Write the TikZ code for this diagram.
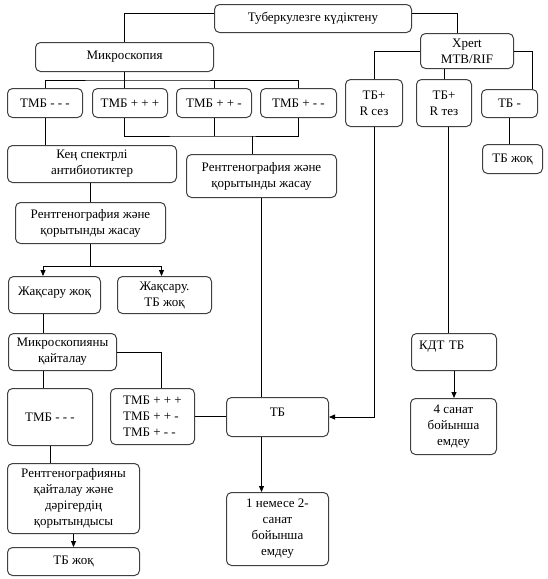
\documentclass[tikz,border=0pt]{standalone}
\usepackage{fontspec}
\setmainfont{Liberation Serif}
\usetikzlibrary{positioning,arrows.meta,calc}
\tikzset{
  box/.style={draw=black!75, line width=1pt, rounded corners=5pt, inner sep=1pt,
              align=center, anchor=north west, font=\fontsize{13}{16}\selectfont},
  sz/.style 2 args={minimum width=#1, minimum height=#2},
  wire/.style={draw=black, line width=0.8pt},
  arr/.style={wire, -{Triangle[length=6pt,width=5pt]}}
}

\begin{document}
\begin{tikzpicture}[x=1pt, y=-1pt]
\useasboundingbox (0,0) rectangle (548,579);
% top row
\node[box, sz={197pt}{28pt}] (susp) at (214,4) {Туберкулезге күдіктену};
\node[box, sz={178pt}{29pt}] (micro) at (35,42) {Микроскопия};
\node[box, sz={93pt}{35pt}] (xpert) at (420,33) {Xpert\\MTB/RIF};
% microscopy results
\node[box, sz={75pt}{29pt}] (tmbA) at (7,88) {ТМБ - - -};
\node[box, sz={75pt}{29pt}] (tmbB) at (92,88) {ТМБ + + +};
\node[box, sz={75pt}{29pt}] (tmbC) at (176,88) {ТМБ + + -};
\node[box, sz={76pt}{29pt}] (tmbD) at (260,88) {ТМБ + - -};
% xpert results
\node[box, sz={57pt}{47pt}] (rses) at (345,79) {ТБ+\\R сез};
\node[box, sz={55pt}{47pt}] (rtez) at (416,79) {ТБ+\\R тез};
\node[box, sz={56pt}{28pt}] (tbneg) at (481,89) {ТБ -};
\node[box, sz={60pt}{29pt}] (tbnoA) at (482,144) {ТБ жоқ};
% left branch
\node[box, sz={169pt}{37pt}] (abx) at (7,145) {Кең спектрлі\\антибиотиктер};
\node[box, sz={150pt}{43pt}] (xrayB) at (186,154) {Рентгенография және\\қорытынды жасау};
\node[box, sz={150pt}{41pt}] (xrayA) at (15,202) {Рентгенография және\\қорытынды жасау};
\node[box, sz={92pt}{37pt}, text depth=8pt] (noimp) at (8,276) {Жақсару жоқ};
\node[box, sz={94pt}{37pt}] (imp) at (117,276) {Жақсару.\\ТБ жоқ};
\node[box, sz={108pt}{37pt}] (remicro) at (8,333) {Микроскопияны\\қайталау};
\node[box, sz={85pt}{57pt}] (tmbE) at (7,388) {ТМБ - - -};
\node[box, sz={84pt}{56pt}, align=left] (tmbpos) at (110,388) {ТМБ + + +\\ТМБ + + -\\ТМБ + - -};
\node[box, sz={132pt}{70pt}] (xrayC) at (7,463) {Рентгенографияны\\қайталау және\\дәрігердің\\қорытындысы};
\node[box, sz={132pt}{28pt}] (tbnoB) at (7,547) {ТБ жоқ};
% outcomes
\node[box, sz={102pt}{39pt}, text depth=9pt] (tb) at (226,397) {ТБ};
\node[box, sz={102pt}{73pt}] (catA) at (226,492) {1 немесе 2-\\санат\\бойынша\\емдеу};
\node[box, sz={85pt}{37pt}, text width=70pt, align=left, text depth=13pt] (kdt) at (411,333) {КДТ ТБ};
\node[box, sz={86pt}{56pt}] (catB) at (410,398) {4 санат\\бойынша\\емдеу};

\coordinate (lcol) at (43,0);
\coordinate (mbus) at ($(micro.south)+(0,-8pt)$);
\coordinate (pbus) at ($(tmbC.south)+(0,-18pt)$);
\coordinate (xbus) at ($(xrayA.south)+(0,-22pt)$);

% connectors
\draw[wire] ([yshift=5pt]susp.west) -| (micro.north);
\draw[wire] ([yshift=5pt]susp.east) -| ([xshift=-10pt]xpert.north);
\draw[wire] (tmbA.north) |- (mbus) -| (tmbD.north);
\draw[wire] (micro.south) -- (tmbB.north -| micro.south);
\draw[wire] (tmbC.north) -- (tmbC.north |- mbus);
\draw[wire] (tmbB.south -| micro.south) |- (pbus) -| (tmbD.south);
\draw[wire] (tmbC.south) -- (tmbC.south |- pbus);
\draw[wire] ([xshift=-9pt]xrayB.north) -- ([xshift=-9pt]xrayB.north |- pbus);
\draw[wire] (xpert.west) -| (rses.north);
\draw[wire] (rtez.north) -- (rtez.north |- xpert.south);
\draw[wire] (xpert.east) -| ([xshift=23pt]tbneg.north);
\draw[wire] (tbneg.south) -- (tbneg.south |- tbnoA.north);
\draw[wire] (tmbA.south) -- (tmbA.south |- abx.north);
\draw[wire] (xrayA.north) -- (xrayA.north |- abx.south);
\draw[wire] (xrayA.south) -- (xbus);
\draw[arr] (xbus) -| (noimp.north -| lcol);
\draw[arr] (xbus) -| ([xshift=-3pt]imp.north);
\draw[wire] (noimp.south -| lcol) -- (remicro.north -| lcol);
\draw[wire] (remicro.south -| lcol) -- (tmbE.north -| lcol);
\draw[wire] (remicro.east) -| ([xshift=9pt]tmbpos.north);
\draw[wire] (tmbE.south) -- (tmbE.south |- xrayC.north);
\draw[arr] (xrayC.south) -- (tbnoB.north);
\draw[wire] (tmbpos.east) -- (tmbpos.east -| tb.west);
\draw[wire] (xrayB.south) -- (xrayB.south |- tb.north);
\draw[arr] (xrayB.south |- tb.south) -- (xrayB.south |- catA.north);
\draw[arr] (rses.south) |- (tb.east);
\draw[wire] ([xshift=4pt]rtez.south) -- ([xshift=4pt]rtez.south |- kdt.north);
\draw[arr] (kdt.south) -- (kdt.south |- catB.north);
\end{tikzpicture}
\end{document}
